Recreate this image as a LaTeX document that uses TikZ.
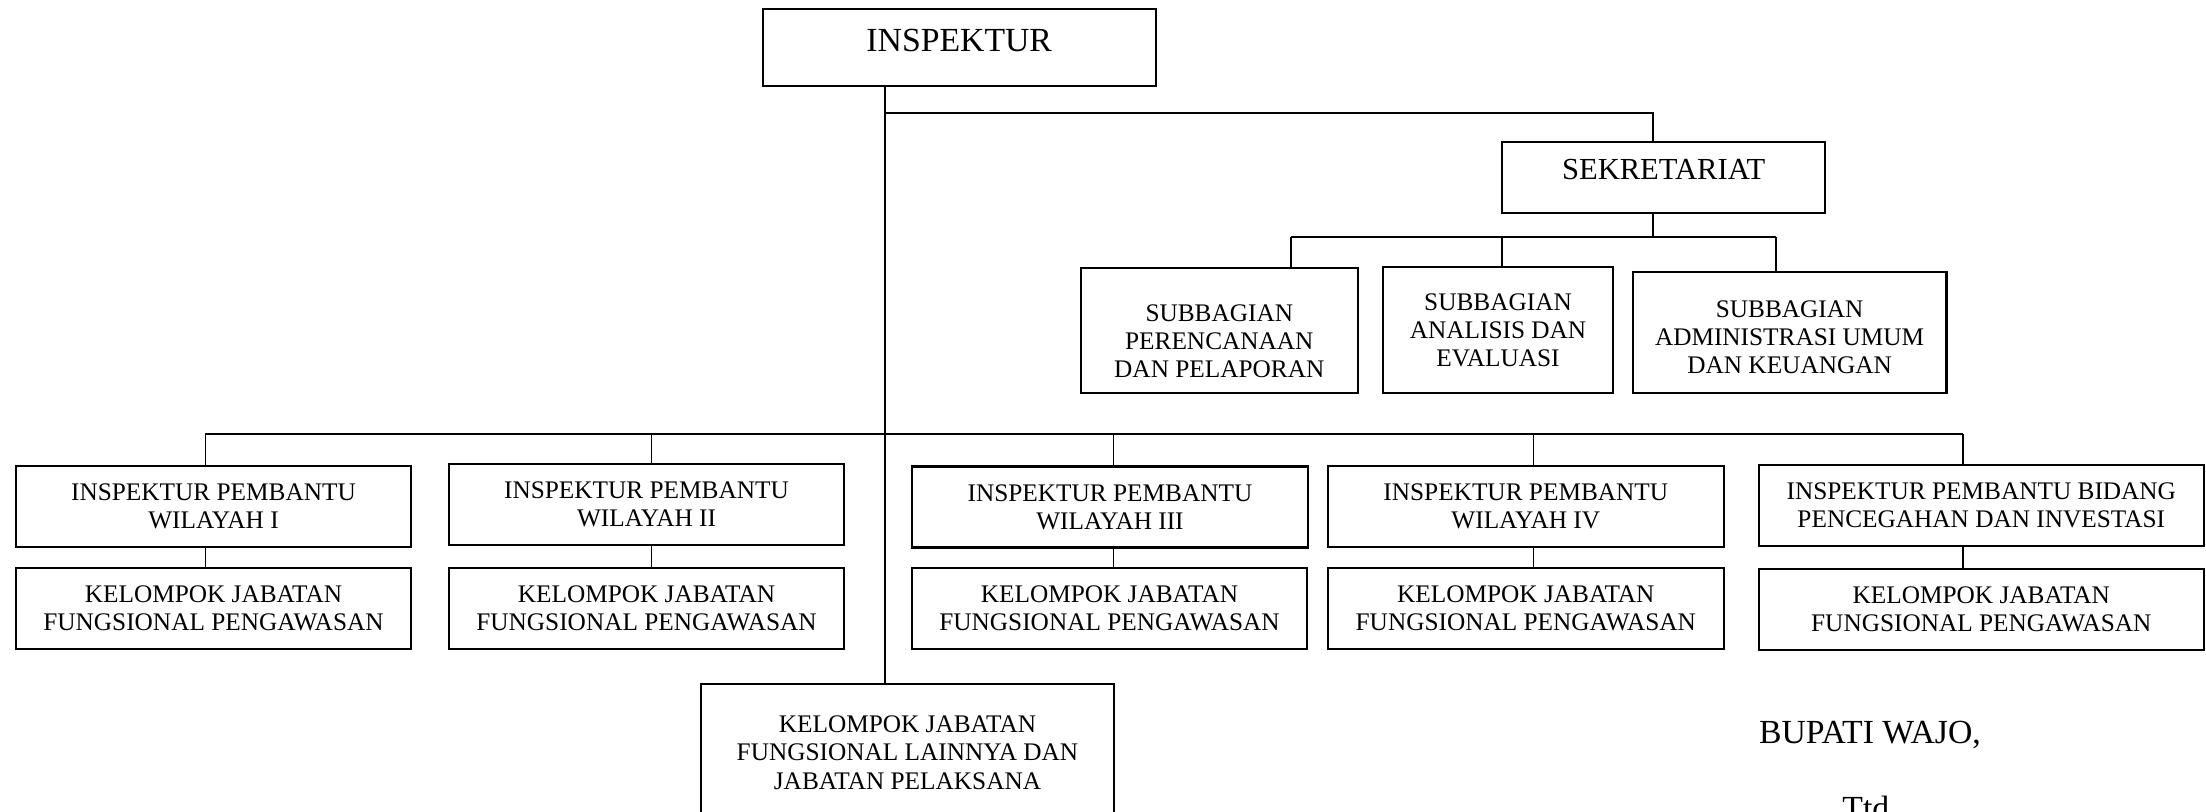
\documentclass[tikz,border=0pt]{standalone}
\usepackage{fontspec}
\setmainfont{Liberation Serif}
\begin{document}
\begin{tikzpicture}[
    orgbox/.style={draw, shape=rectangle, line width=0.6pt, inner sep=0pt, align=center, font=\fontsize{7.2}{8}\selectfont},
    boxtext/.style={align=center, inner sep=0pt, font=\fontsize{7.2}{8}\selectfont},
    titlefont/.style={font=\fontsize{9.6}{11}\selectfont},
    link/.style={line width=0.5pt}
  ]
  \def\rowwidth{3.955cm}
  \def\rowheight{0.81cm}
  \def\busy{-4.34}
  \useasboundingbox (0,0) rectangle (22.06,-8.12);
  \clip (0,0) rectangle (22.06,-8.12);
  \node[orgbox, minimum width=3.933cm, minimum height=0.77cm, label={[titlefont, yshift=0.67mm]center:INSPEKTUR}] (inspektur) at (9.592,-0.472) {};
  \node[orgbox, minimum width=3.236cm, minimum height=0.71cm, label={[font=\fontsize{8.7}{10}\selectfont, yshift=0.72mm]center:SEKRETARIAT}] (sekretariat) at (16.636,-1.772) {};
  \node[orgbox, minimum width=2.766cm, minimum height=1.256cm, label={[boxtext, yshift=-1.05mm]center:SUBBAGIAN\\PERENCANAAN\\DAN PELAPORAN}] (sub1) at (12.193,-3.305) {};
  \node[orgbox, minimum width=2.30cm, minimum height=1.266cm] (sub2) at (14.98,-3.30) {SUBBAGIAN\\ANALISIS DAN\\EVALUASI};
  \node[orgbox, minimum width=3.137cm, minimum height=1.21cm, label={[boxtext, yshift=-0.45mm]center:SUBBAGIAN\\ADMINISTRASI UMUM\\DAN KEUANGAN}] (sub3) at (17.896,-3.328) {};
  \node[orgbox, minimum width=\rowwidth, minimum height=\rowheight] (ip1) at (2.135,-5.062) {INSPEKTUR PEMBANTU\\WILAYAH I};
  \node[orgbox, minimum width=\rowwidth, minimum height=\rowheight] (ip2) at (6.465,-5.042) {INSPEKTUR PEMBANTU\\WILAYAH II};
  \node[orgbox, minimum width=\rowwidth, minimum height=\rowheight] (ip3) at (11.10,-5.07) {INSPEKTUR PEMBANTU\\WILAYAH III};
  \node[orgbox, minimum width=\rowwidth, minimum height=\rowheight] (ip4) at (15.258,-5.062) {INSPEKTUR PEMBANTU\\WILAYAH IV};
  \node[orgbox, minimum width=4.453cm, minimum height=\rowheight] (ip5) at (19.813,-5.052) {INSPEKTUR PEMBANTU BIDANG\\PENCEGAHAN DAN INVESTASI};
  \node[orgbox, minimum width=\rowwidth, minimum height=\rowheight] (kj1) at (2.135,-6.085) {KELOMPOK JABATAN\\FUNGSIONAL PENGAWASAN};
  \node[orgbox, minimum width=\rowwidth, minimum height=\rowheight] (kj2) at (6.465,-6.085) {KELOMPOK JABATAN\\FUNGSIONAL PENGAWASAN};
  \node[orgbox, minimum width=\rowwidth, minimum height=\rowheight] (kj3) at (11.095,-6.085) {KELOMPOK JABATAN\\FUNGSIONAL PENGAWASAN};
  \node[orgbox, minimum width=\rowwidth, minimum height=\rowheight] (kj4) at (15.258,-6.085) {KELOMPOK JABATAN\\FUNGSIONAL PENGAWASAN};
  \node[orgbox, minimum width=4.453cm, minimum height=\rowheight] (kj5) at (19.813,-6.092) {KELOMPOK JABATAN\\FUNGSIONAL PENGAWASAN};
  \node[orgbox, minimum width=4.123cm, minimum height=1.38cm] (lain) at (9.075,-7.527) {KELOMPOK JABATAN\\FUNGSIONAL LAINNYA DAN\\JABATAN PELAKSANA};
  \node[titlefont, anchor=base west, inner sep=0pt] (bupati) at (17.583,-7.433) {BUPATI WAJO,};
  \node[titlefont, anchor=base west, inner sep=0pt] (ttd) at (18.417,-8.19) {Ttd};
  \coordinate (trunk) at (8.85,\busy);
  \coordinate (sekjoint) at (8.85,-1.133);
  \coordinate (s1) at (12.908,-2.373);
  \coordinate (s2) at (15.018,-2.373);
  \coordinate (s3) at (17.762,-2.373);
  \coordinate (b1) at (2.054,\busy);
  \coordinate (b2) at (6.514,\busy);
  \coordinate (b3) at (11.136,\busy);
  \coordinate (b4) at (15.335,\busy);
  \coordinate (b5) at (19.626,\busy);
  \draw[link] (inspektur.south -| trunk) -- (lain.north -| trunk);
  \draw[link] (sekjoint) -| ([xshift=-1.06mm]sekretariat.north);
  \draw[link] ([xshift=-1.06mm]sekretariat.south) -- ([xshift=-1.06mm]sekretariat.south |- s1);
  \draw[link] (s1) -- (s3);
  \draw[link] (s1) -- (s1 |- sub1.north);
  \draw[link] (s2) -- (s2 |- sub2.north);
  \draw[link] (s3) -- (s3 |- sub3.north);
  \draw[link] (b1) -- (b5);
  \draw[link] (b1) -- (b1 |- ip1.north);
  \draw[link] (b2) -- (b2 |- ip2.north);
  \draw[link] (b3) -- (b3 |- ip3.north);
  \draw[link] (b4) -- (b4 |- ip4.north);
  \draw[link] (b5) -- (b5 |- ip5.north);
  \draw[link] (b1 |- ip1.south) -- (b1 |- kj1.north);
  \draw[link] (b2 |- ip2.south) -- (b2 |- kj2.north);
  \draw[link] (b3 |- ip3.south) -- (b3 |- kj3.north);
  \draw[link] (b4 |- ip4.south) -- (b4 |- kj4.north);
  \draw[link] (b5 |- ip5.south) -- (b5 |- kj5.north);
\end{tikzpicture}
\end{document}
